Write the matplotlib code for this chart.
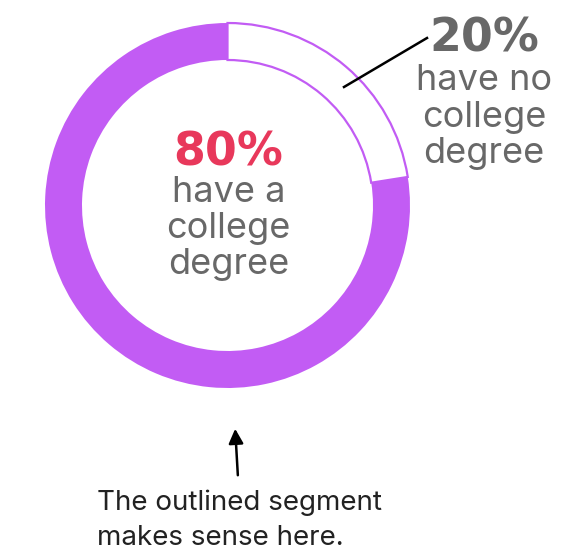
import matplotlib
matplotlib.use("Agg")
import matplotlib.pyplot as plt

# ---- data ----------------------------------------------------------
segment_labels = ["no college degree", "college degree"]
segment_pct = ["20%", "80%"]
# arc shares as drawn in the picture (white arc ends ~9 deg above horizontal)
arc_share = [22.5, 77.5]
segment_colors = ["white", "#c25cf4"]

center_text = ["have a", "college", "degree"]
side_text = ["have no", "college", "degree"]
note_text = ["The outlined segment", "makes sense here."]

W, H = 568, 557
PURPLE = "#c25cf4"
GRAY = "#686868"
RED = "#e8385b"

fig = plt.figure(figsize=(W / 100, H / 100), dpi=100)
ax = fig.add_axes([0, 0, 1, 1])

cx, cy, R = 227.5, H - 205.5, 182.5
wedges, _ = ax.pie(arc_share, colors=segment_colors, startangle=90,
                   counterclock=False, radius=R, center=(cx, cy),
                   wedgeprops=dict(width=37, linewidth=0))
# outline only the white segment
wedges[0].set_edgecolor(PURPLE)
wedges[0].set_linewidth(1.6)

ax.set_xlim(0, W)
ax.set_ylim(0, H)
ax.set_aspect("equal")
ax.axis("off")

body = ["Inter", "DejaVu Sans"]

# centre label
ax.text(cx + 1, H - 165, segment_pct[1], ha="center", va="baseline",
        fontsize=33, fontweight="bold", color=RED, family="DejaVu Sans")
for i, line in enumerate(center_text):
    ax.text(cx + 1, H - (202 + 36 * i), line, ha="center", va="baseline",
            fontsize=26, color=GRAY, family=body)

# right label
ax.text(484, H - 52, segment_pct[0], ha="center", va="baseline",
        fontsize=33, fontweight="bold", color=GRAY, family="DejaVu Sans")
for i, line in enumerate(side_text):
    ax.text(484, H - (90 + 36.5 * i), line, ha="center", va="baseline",
            fontsize=26, color=GRAY, family=body)
ax.plot([344, 427], [H - 87, H - 38], color="black", lw=1.8)

# bottom note with arrow
ax.annotate("", xy=(235, H - 426), xytext=(238, H - 478),
            arrowprops=dict(arrowstyle="-|>", color="black", lw=1.8,
                            mutation_scale=22))
for i, line in enumerate(note_text):
    ax.text(97, H - (510 + 35 * i), line, ha="left", va="baseline",
            fontsize=20, color="#222222", family=body)

fig.savefig("out.png", dpi=100)
